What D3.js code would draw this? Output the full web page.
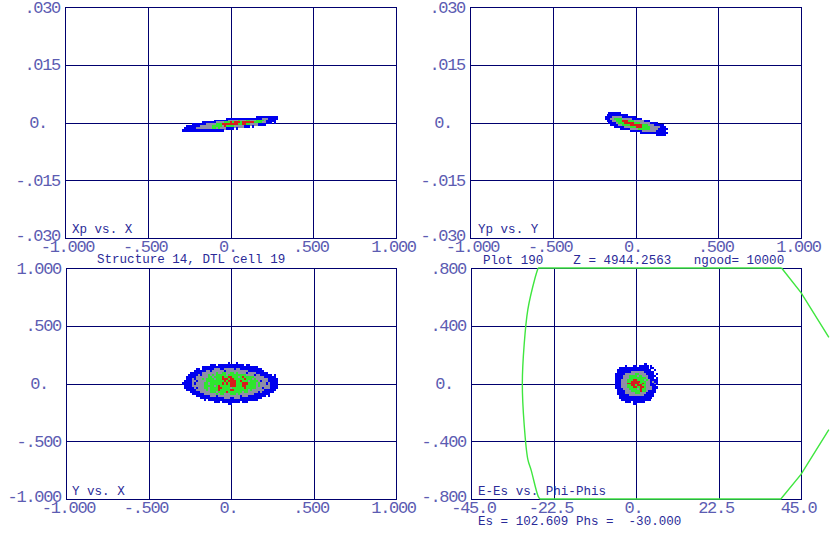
<!DOCTYPE html>
<html>
<head>
<meta charset="utf-8">
<script src="https://cdn.jsdelivr.net/npm/d3@7"></script>
<style>
  html, body { margin: 0; padding: 0; background: #fff; }
  svg { display: block; }
  .tick text { font-family: "Liberation Mono", monospace; font-size: 17px; letter-spacing: -1.3px; fill: #5c5cb2; }
  .note { font-family: "Liberation Mono", monospace; font-size: 12.55px; fill: #2a2a98; white-space: pre; }
</style>
</head>
<body>
<svg id="chart" width="834" height="536"></svg>
<script>
// tick labels
const xTicksUnit = [-1, -0.5, 0, 0.5, 1];
const xLabelsUnit = ["-1.000", "-.500", "0.", ".500", "1.000"];
const yTicksSmall = [-0.03, -0.015, 0, 0.015, 0.03];
const yLabelsSmall = ["-.030", "-.015", "0.", ".015", ".030"];
const yTicksUnit = [-1, -0.5, 0, 0.5, 1];
const yLabelsUnit = ["-1.000", "-.500", "0.", ".500", "1.000"];
const xTicksPhase = [-45, -22.5, 0, 22.5, 45];
const xLabelsPhase = ["-45.0", "-22.5", "0.", "22.5", "45.0"];
const yTicksEnergy = [-0.8, -0.4, 0, 0.4, 0.8];
const yLabelsEnergy = ["-.800", "-.400", "0.", ".400", ".800"];

// density maps: b blue, g gray, n green, r red
const xpRows = [
  "                                     bbbbbbbbbbb",
  "                      bbbbbbbbbbbbbbbbbbgggbbbbb",
  "                bbbbbbbgggggngggnngggnnnngbbbbb ",
  "          bbbbbbbggggnnnrnrrrnrrrrrrnnnnggbbb b ",
  "     bbbbbbbgggggnnnrrrrrrrrnnrrnnggggbbbb      ",
  "  bbbbbbbggggggnnnnngrnnnngggggbbb b            ",
  " bbbbbbggggggggnngngggbbbb b                    ",
  "bbbbbbbbbbbbbbbbbbbbb                           "
];
const xpExtentX = [-0.293, 0.287];
const xpExtentY = [0.0018, -0.0023];

const ypRows = [
  "  bbbbbb                        ",
  " bbbbbbbbbbb                    ",
  "bbbbgggggbbbbbbb                ",
  "bbbggnnnngggggbbbbb             ",
  " bbbggnnnrrrnnngggggbbb         ",
  "  bbbbgnnnrrrrrnnngggggbbbb     ",
  "   bbbbggnnnnrrrrrrnnngggbbbbb  ",
  "     bbbbbgggnnnrrrnnnngggggbbb ",
  "        bbbbbggggnnnnnnggggbbbbb",
  "             bbbbbbgggggggbbbbb ",
  "                  bbbbbbbbbbbbbb",
  "                          bbbbb "
];
const ypExtentX = [-0.187, 0.193];
const ypExtentY = [0.0026, -0.0034];

const yxRows = [
  "                       b   b                    ",
  "              bbb bbbbbbbbbbbbb bb              ",
  "          bbbbbbbbbbbbbbbbbbbbbbbbbbbb          ",
  "       bb bbbbbbgggbbgggggbggbbbbbbbbbbb        ",
  "      bbbbbbggbggggggbgggggggggggbbbbbbbb       ",
  "    bbbbbbgggggggnggnnggnngnggggbggggbbbbbb     ",
  "   bbbbbgbgggngngnnnnngnnnnnnnnnggggbggbbbbbb b ",
  "  bbbbbggggggnngnnnnrnnrrnnngnrnnnnngggggbbbbbb ",
  "  bbbgbgggngnnnngnnnrrrnrrnnnnnrnnngnggggggbbbbb",
  " bbbbggbggggnnnnnnnnnrnrrrrnnrnnngnnnngbgggbbbbb",
  "bbbbbgbggggnngnnnnnnrnrnrrrnnnrrrnnnngngggbgbbbb",
  " bbbbggggggnnnnngnrnnnnnrrrnnnrrnnnnngngggggbbbb",
  " bbbbbgbgggnngnnnnrrnnnngnnnnnnrnnnnngggbgggbbbb",
  "  bbbbbgggggngnnnnrnnnnnrrnnnnnnngnggggggbbbbbb ",
  "    bbbbbgggggnnngnnnnrnnnnnnngnngggggbgbbbbbb  ",
  "     bbbbbbggggggngnngggnnngngggggggbbbbbbbb    ",
  "       bbbbbbbgggbgggggggggggbgggbbbbbbbbb b    ",
  "         bbbbbbbbbbbbgggbbgggbbbbbbbbbbb        ",
  "           b bbbbbbbbbbbbbbbbbbbbbbbbb          ",
  "                bbb bbbbbbbbb bbb               ",
  "                       bb                       "
];
const yxExtentX = [-0.296, 0.284];
const yxExtentY = [0.182, -0.182];

const phiRows = [
  "               b      ",
  "     b   bb bbbbb b   ",
  "  bbbbbbbbbbbbbbb bb  ",
  " bbbbbbbbbbbbbbbbb  b ",
  " bbbbbbbgggggggbbbbb  ",
  "bbbbbgggggnnggggbbbb b",
  "bbbbgggnnnngnngggbbbb ",
  "bbbbgggnnnnnnnnngbbb b",
  "bbbgggnnnrrnnnngngbbbb",
  "bbbgggnnrrrrrnnnggbgbb",
  "bbbgggrrrrrrnnrnggbbgb",
  "bbbgggnnrrnrrrnnggbbb ",
  "bbbgggnnnrrnnrrngggbbb",
  " bbbgggnnnngnrnngggbb ",
  " bbbbgggnnnnnrnngbbbb ",
  " bbbbgggggnnngggbbbb  ",
  "  bbbbbggggggggbbbbb  ",
  "  bbbbbbbbbbbbbbbbb   ",
  "   bbbbbbbbbbbbbbb    ",
  "     bbb bbbbbb       ",
  "         bb           "
];
const phiExtentX = [-5.7, 6];
const phiExtentY = [0.145, -0.145];

// separatrix in the E-Es vs. Phi-Phis panel
const sepTopPhi = [39.7, -26.7];
const sepTopE = [0.8, 0.8];
const sepArcPhi = [-26.7, -27.5, -29.5, -30.5, -31, -30.5, -29.5, -28.6, -26.7, -26.2];
const sepArcE = [0.8, 0.734, 0.512, 0.27, 0, -0.284, -0.526, -0.6, -0.78, -0.8];
const sepBottomPhi = [-26.2, 39.5, 45, 52.6];
const sepBottomE = [-0.8, -0.8, -0.63, -0.319];
const sepRightPhi = [39.7, 45, 52.6];
const sepRightE = [0.8, 0.63, 0.319];

const levelColor = { b: "#0000ee", g: "#8f8fa6", n: "#2ee62e", r: "#d81c1c" };

const svg = d3.select("#chart");

function drawPanel(p) {
  const x = d3.scaleLinear().domain(p.xDomain).range([p.left, p.right]);
  const y = d3.scaleLinear().domain(p.yDomain).range([p.bottom, p.top]);
  const h = p.bottom - p.top;
  const w = p.right - p.left;

  // axes carry the grid as long ticks
  const xAxis = d3.axisBottom(x).tickValues(p.xTicks).tickSize(-h).tickPadding(0)
    .tickFormat((d, i) => p.xLabels[i]);
  const yAxis = d3.axisLeft(y).tickValues(p.yTicks).tickSize(-w).tickPadding(0)
    .tickFormat((d, i) => p.yLabels[i]);

  const gx = svg.append("g").attr("transform", `translate(0,${p.bottom})`).call(xAxis);
  const gy = svg.append("g").attr("transform", `translate(${p.left},0)`).call(yAxis);
  [gx, gy].forEach((g) => {
    g.selectAll("path.domain").attr("stroke", "#00006e").attr("stroke-width", 1);
    g.selectAll("line").attr("stroke", "#00006e").attr("stroke-width", 1).attr("shape-rendering", "crispEdges");
  });
  gx.selectAll("text")
    .attr("y", 14).attr("dy", 0)
    .attr("dx", (d, i) => (i === 0 ? 2 : -3));
  gy.selectAll("text")
    .attr("x", -5).attr("dy", 0)
    .attr("y", (d, i) => (i === 0 ? 2 : 5))
    .attr("dx", (d, i) => (p.yLabels[i] === "0." ? -13 : 0));
  svg.append("rect")
    .attr("x", p.left + 0.5).attr("y", p.top + 0.5).attr("width", w).attr("height", h)
    .attr("fill", "none").attr("stroke", "#00006e");

  // density cells
  const rowScale = d3.scaleBand().domain(d3.range(p.rows.length)).range(p.extentY.map(y));
  const colScale = d3.scaleBand().domain(d3.range(d3.max(p.rows, (r) => r.length))).range(p.extentX.map(x));
  const cells = [];
  p.rows.forEach((row, r) => {
    row.split("").forEach((c, k) => {
      if (c !== " ") cells.push({ r, k, c });
    });
  });
  svg.append("g").attr("shape-rendering", "crispEdges").selectAll("rect")
    .data(cells)
    .join("rect")
    .attr("x", (d) => colScale(d.k))
    .attr("y", (d) => rowScale(d.r))
    .attr("width", colScale.bandwidth() + 0.3)
    .attr("height", rowScale.bandwidth() + 0.3)
    .attr("fill", (d) => levelColor[d.c]);

  return { x, y };
}

const panels = [
  { left: 65, right: 396, top: 7, bottom: 238, xDomain: [-1, 1], yDomain: [-0.03, 0.03],
    xTicks: xTicksUnit, xLabels: xLabelsUnit, yTicks: yTicksSmall, yLabels: yLabelsSmall,
    rows: xpRows, extentX: xpExtentX, extentY: xpExtentY },
  { left: 470, right: 801, top: 7, bottom: 238, xDomain: [-1, 1], yDomain: [-0.03, 0.03],
    xTicks: xTicksUnit, xLabels: xLabelsUnit, yTicks: yTicksSmall, yLabels: yLabelsSmall,
    rows: ypRows, extentX: ypExtentX, extentY: ypExtentY },
  { left: 66, right: 396, top: 268, bottom: 499, xDomain: [-1, 1], yDomain: [-1, 1],
    xTicks: xTicksUnit, xLabels: xLabelsUnit, yTicks: yTicksUnit, yLabels: yLabelsUnit,
    rows: yxRows, extentX: yxExtentX, extentY: yxExtentY },
  { left: 471, right: 801, top: 268, bottom: 499, xDomain: [-45, 45], yDomain: [-0.8, 0.8],
    xTicks: xTicksPhase, xLabels: xLabelsPhase, yTicks: yTicksEnergy, yLabels: yLabelsEnergy,
    rows: phiRows, extentX: phiExtentX, extentY: phiExtentY }
];

const scales = panels.map(drawPanel);

// separatrix: straight runs, rounded on the left arc
const phase = scales[3];
const sepLine = d3.line().x((d) => phase.x(d[0])).y((d) => phase.y(d[1]));
const sepArc = d3.line().x((d) => phase.x(d[0])).y((d) => phase.y(d[1])).curve(d3.curveCatmullRom.alpha(0.5));
[
  [sepLine, sepTopPhi, sepTopE],
  [sepArc, sepArcPhi, sepArcE],
  [sepLine, sepBottomPhi, sepBottomE],
  [sepLine, sepRightPhi, sepRightE]
].forEach(([gen, xs, ys]) => {
  svg.append("path")
    .attr("d", gen(xs.map((v, i) => [v, ys[i]])))
    .attr("fill", "none").attr("stroke", "#3fe63f").attr("stroke-width", 1.4);
});

// captions
const notes = [
  ["Xp vs. X", 72, 233],
  ["Yp vs. Y", 478, 233],
  ["Structure 14, DTL cell 19", 97, 263],
  ["Plot 190    Z = 4944.2563   ngood= 10000", 483, 264],
  ["Y vs. X", 72, 495],
  ["E-Es vs. Phi-Phis", 478, 495],
  ["Es = 102.609 Phs =  -30.000", 478, 525]
];
svg.selectAll("text.note")
  .data(notes)
  .join("text")
  .attr("class", "note")
  .attr("x", (d) => d[1])
  .attr("y", (d) => d[2])
  .text((d) => d[0]);
</script>
</body>
</html>
